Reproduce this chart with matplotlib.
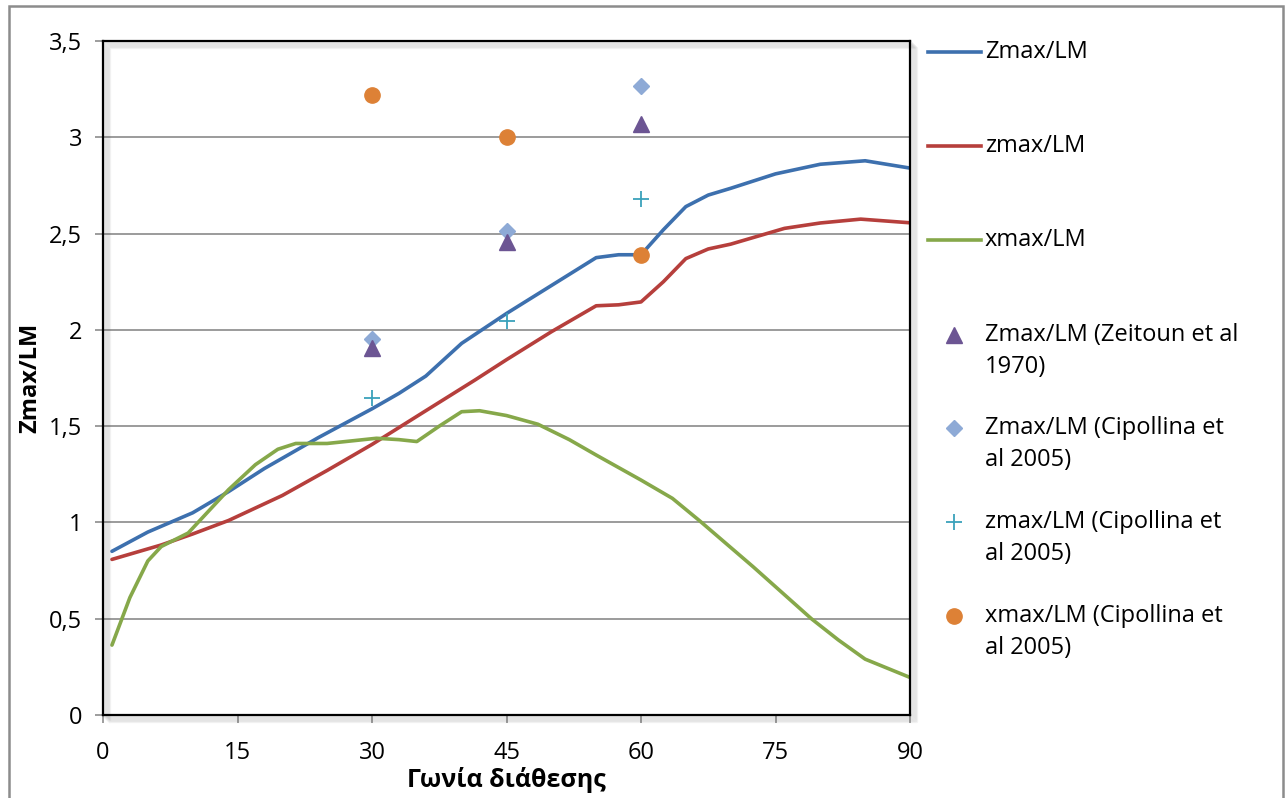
import matplotlib
matplotlib.use('Agg')
import matplotlib.pyplot as plt
from matplotlib.lines import Line2D
from matplotlib.patches import Rectangle
from matplotlib.transforms import ScaledTranslation

plt.rcParams['font.family'] = ['Open Sans', 'DejaVu Sans']

# simulation curves (angle in degrees)
angZ = [1, 5, 10, 14, 18, 21, 24, 27, 30, 33, 36, 40, 45, 50, 55, 57.5, 60, 62.5, 65, 67.5, 70, 75, 80, 85, 90]
Zmax = [0.85, 0.95, 1.05, 1.16, 1.28, 1.36, 1.44, 1.515, 1.59, 1.67, 1.76, 1.93, 2.085, 2.23, 2.375, 2.39, 2.39,
        2.52, 2.64, 2.70, 2.735, 2.81, 2.86, 2.878, 2.84]

angz = [1, 6.5, 10, 14, 20, 25, 30, 36, 41.5, 45, 50, 55, 57.5, 60, 62.5, 65, 67.5, 70, 76, 80, 84.5, 90]
zmax = [0.808, 0.883, 0.94, 1.01, 1.14, 1.27, 1.405, 1.58, 1.74, 1.845, 1.99, 2.125, 2.13, 2.145, 2.25, 2.37,
        2.42, 2.445, 2.527, 2.555, 2.575, 2.556]

angx = [1, 3, 5, 6.5, 9.5, 14, 17, 19.5, 21.5, 25, 30.5, 33, 35, 37.5, 40, 42, 45, 48.5, 52, 55, 60, 63.5,
        66.5, 72.5, 79, 82, 85, 90]
xmax = [0.363, 0.61, 0.80, 0.875, 0.945, 1.17, 1.30, 1.38, 1.41, 1.41, 1.437, 1.43, 1.42, 1.50, 1.575, 1.58,
        1.555, 1.51, 1.43, 1.35, 1.22, 1.125, 1.01, 0.77, 0.50, 0.39, 0.29, 0.195]

# experimental points
angExp = [30, 45, 60]
zeitounZ = [1.905, 2.456, 3.07]
cipollinaZ = [1.952, 2.513, 3.266]
cipollinaz = [1.646, 2.046, 2.68]
cipollinax = [3.22, 3.0, 2.39]

labels = ['Zmax/LM', 'zmax/LM', 'xmax/LM',
          'Zmax/LM (Zeitoun et al\n1970)', 'Zmax/LM (Cipollina et\nal 2005)',
          'zmax/LM (Cipollina et\nal 2005)', 'xmax/LM (Cipollina et\nal 2005)']

cBlue, cRed, cGreen = '#3d70ae', '#b63f3c', '#86a84a'
cPurple, cDiam, cPlus, cOrange = '#6c5593', '#8eaad6', '#3aa1bb', '#dd8136'

W, H = 1288, 798
fig = plt.figure(figsize=(W / 100, H / 100), dpi=100)
ax = fig.add_axes([103 / W, 1 - 715 / H, (910 - 103) / W, (715 - 41) / H])

lw = 2.6
ax.plot(angZ, Zmax, color=cBlue, lw=lw, solid_capstyle='round', solid_joinstyle='round', zorder=3)
ax.plot(angz, zmax, color=cRed, lw=lw, solid_capstyle='round', solid_joinstyle='round', zorder=3)
ax.plot(angx, xmax, color=cGreen, lw=lw, solid_capstyle='round', solid_joinstyle='round', zorder=3)

ax.plot(angExp, cipollinaZ, ls='none', marker='D', ms=8, color=cDiam, zorder=4)
ax.plot(angExp, zeitounZ, ls='none', marker='^', ms=11, color=cPurple, zorder=4)
ax.plot(angExp, cipollinaz, ls='none', marker='+', ms=11, mew=1.3, color=cPlus, zorder=4)
ax.plot(angExp, cipollinax, ls='none', marker='o', ms=11, color=cOrange, zorder=4)

ax.set_xlim(0, 90)
ax.set_ylim(0, 3.5)
ax.set_xticks(range(0, 91, 15))
yt = [0, 0.5, 1, 1.5, 2, 2.5, 3, 3.5]
ax.set_yticks(yt)
ax.set_yticklabels([('%g' % v).replace('.', ',') for v in yt])
ax.tick_params(direction='out', length=6, width=1.2, color='#8c8c8c', labelsize=17)
ax.tick_params(axis='x', pad=13)
ax.tick_params(axis='y', pad=9)
ax.yaxis.grid(True, color='#8a8a8a', lw=1.2)
ax.set_axisbelow(True)

for s in ax.spines.values():
    s.set_color('black')
    s.set_linewidth(1.6)
    s.set_zorder(6)

# soft shadow of the plot frame
for k in range(1, 8):
    off = ax.transAxes + ScaledTranslation(k / 100, -k / 100, fig.dpi_scale_trans)
    ax.add_line(Line2D([0, 0, 1, 1, 0], [0, 1, 1, 0, 0], transform=off, color='0.35',
                       alpha=0.07, lw=1.6, clip_on=False, zorder=5))

ax.set_ylabel('Zmax/LM', fontsize=17, fontweight='bold', va='center')
ax.yaxis.set_label_coords((30 - 103) / 807, 0.5)
ax.set_xlabel('Γωνία διάθεσης', fontsize=18, fontweight='bold', va='center')
ax.xaxis.set_label_coords(0.5, (715 - 780) / 674)

# legend drawn by hand so every entry gets the same height
rowsY = [52, 146, 240, 335, 428, 522, 616]
handles = [dict(color=cBlue), dict(color=cRed), dict(color=cGreen),
           dict(color=cPurple, marker='^', ms=11), dict(color=cDiam, marker='D', ms=8),
           dict(color=cPlus, marker='+', ms=11, mew=1.3), dict(color=cOrange, marker='o', ms=11)]
for y, lab, h in zip(rowsY, labels, handles):
    fy = 1 - y / H
    if 'marker' in h:
        fig.add_artist(Line2D([954 / W], [fy], ls='none', transform=fig.transFigure, **h))
    else:
        fig.add_artist(Line2D([928 / W, 981 / W], [fy, fy], lw=lw, transform=fig.transFigure, **h))
    for i, line in enumerate(lab.split('\n')):
        fig.text(985 / W, 1 - (y + 32 * i) / H, line, fontsize=17, va='center', ha='left')

fig.add_artist(Rectangle((9 / W, -0.02), (1283 - 9) / W, 1 - 6 / H + 0.02, fill=False,
                         edgecolor='#8c8c8c', lw=1.8, transform=fig.transFigure))

fig.savefig('out.png', dpi=100)
